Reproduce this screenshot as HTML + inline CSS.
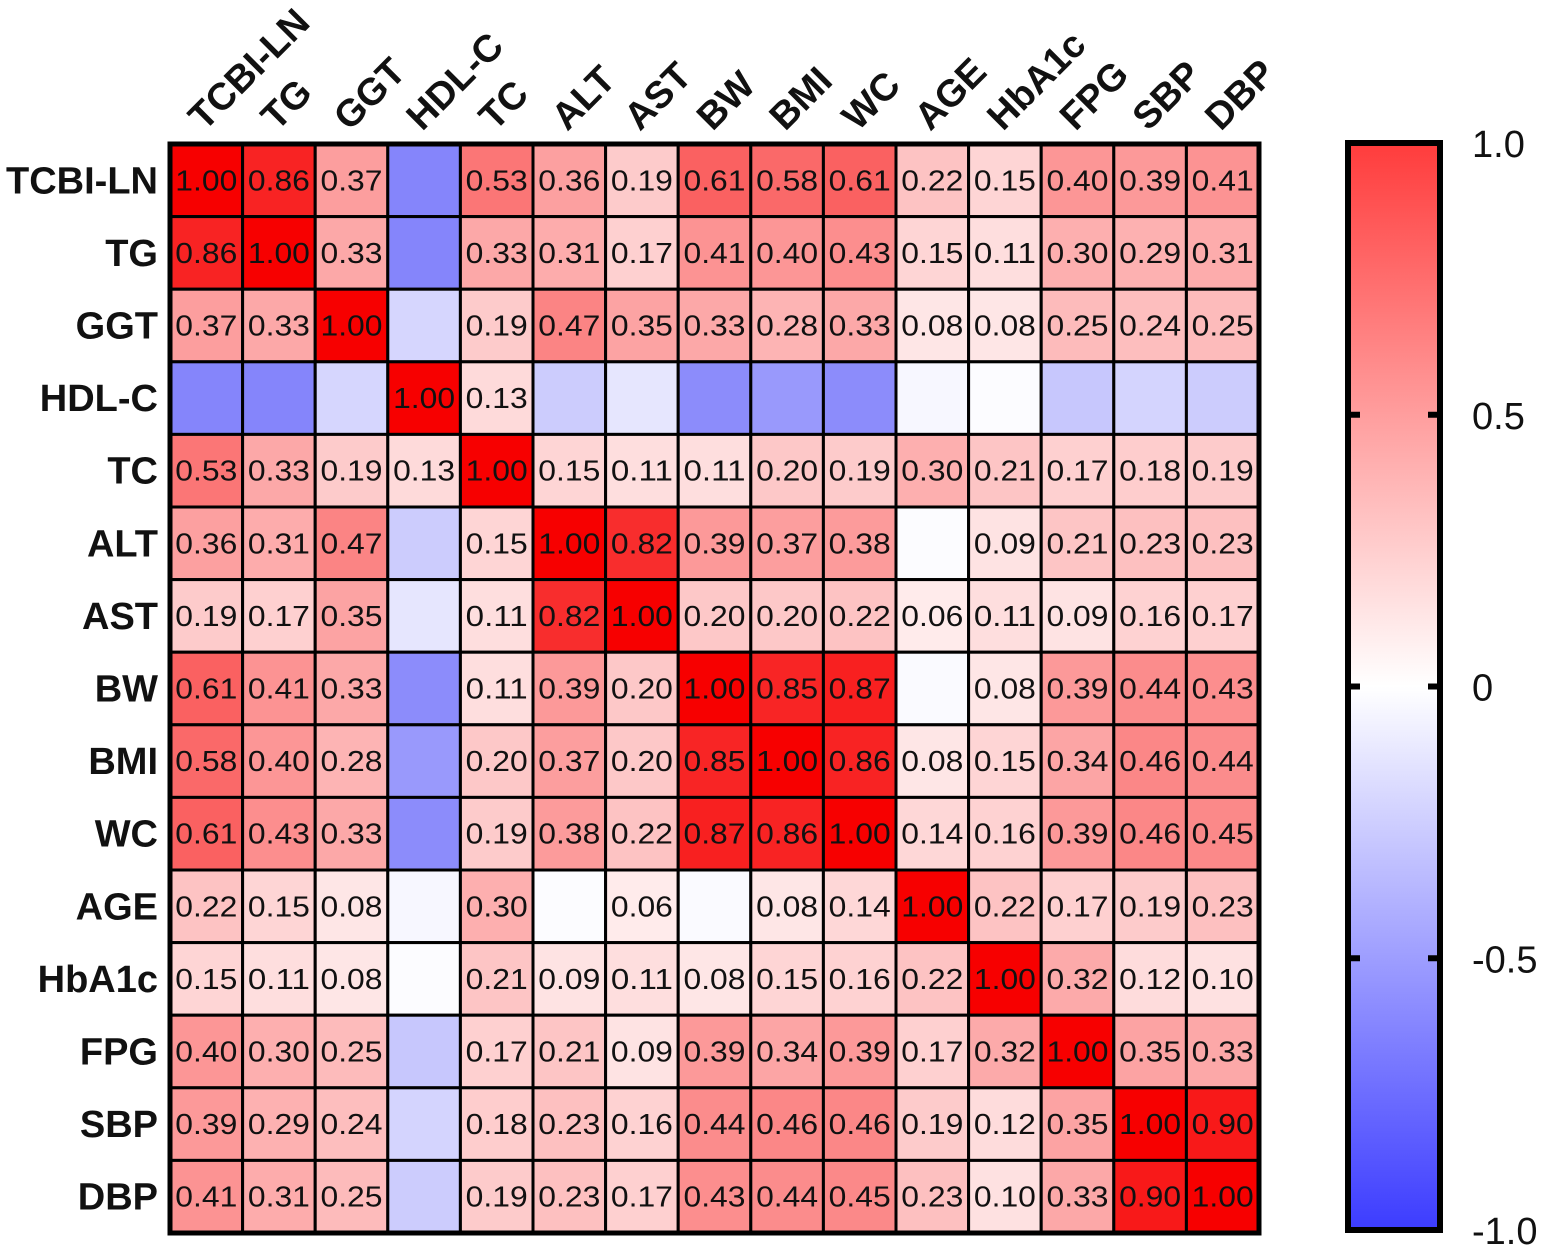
<!DOCTYPE html>
<html><head><meta charset="utf-8"><style>
html,body{margin:0;padding:0;background:#fff;}
svg{display:block;font-family:"Liberation Sans",sans-serif;}
</style></head><body>
<svg id="chart" width="1550" height="1248" viewBox="0 0 1550 1248"></svg>
<script>
const labels=["TCBI-LN","TG","GGT","HDL-C","TC","ALT","AST","BW","BMI","WC","AGE","HbA1c","FPG","SBP","DBP"];
const row0=[1.00,0.86,0.37,-0.48,0.53,0.36,0.19,0.61,0.58,0.61,0.22,0.15,0.40,0.39,0.41];
const row1=[0.86,1.00,0.33,-0.48,0.33,0.31,0.17,0.41,0.40,0.43,0.15,0.11,0.30,0.29,0.31];
const row2=[0.37,0.33,1.00,-0.16,0.19,0.47,0.35,0.33,0.28,0.33,0.08,0.08,0.25,0.24,0.25];
const row3=[-0.48,-0.48,-0.16,1.00,0.13,-0.20,-0.10,-0.45,-0.40,-0.45,-0.03,-0.01,-0.22,-0.17,-0.20];
const row4=[0.53,0.33,0.19,0.13,1.00,0.15,0.11,0.11,0.20,0.19,0.30,0.21,0.17,0.18,0.19];
const row5=[0.36,0.31,0.47,-0.20,0.15,1.00,0.82,0.39,0.37,0.38,-0.01,0.09,0.21,0.23,0.23];
const row6=[0.19,0.17,0.35,-0.10,0.11,0.82,1.00,0.20,0.20,0.22,0.06,0.11,0.09,0.16,0.17];
const row7=[0.61,0.41,0.33,-0.45,0.11,0.39,0.20,1.00,0.85,0.87,-0.02,0.08,0.39,0.44,0.43];
const row8=[0.58,0.40,0.28,-0.40,0.20,0.37,0.20,0.85,1.00,0.86,0.08,0.15,0.34,0.46,0.44];
const row9=[0.61,0.43,0.33,-0.45,0.19,0.38,0.22,0.87,0.86,1.00,0.14,0.16,0.39,0.46,0.45];
const row10=[0.22,0.15,0.08,-0.03,0.30,-0.01,0.06,-0.02,0.08,0.14,1.00,0.22,0.17,0.19,0.23];
const row11=[0.15,0.11,0.08,-0.01,0.21,0.09,0.11,0.08,0.15,0.16,0.22,1.00,0.32,0.12,0.10];
const row12=[0.40,0.30,0.25,-0.22,0.17,0.21,0.09,0.39,0.34,0.39,0.17,0.32,1.00,0.35,0.33];
const row13=[0.39,0.29,0.24,-0.17,0.18,0.23,0.16,0.44,0.46,0.46,0.19,0.12,0.35,1.00,0.90];
const row14=[0.41,0.31,0.25,-0.20,0.19,0.23,0.17,0.43,0.44,0.45,0.23,0.10,0.33,0.90,1.00];
const matrix=[row0,row1,row2,row3,row4,row5,row6,row7,row8,row9,row10,row11,row12,row13,row14];
const cbTicks=[1.0,0.5,0,-0.5,-1.0];
const cbTickLabels=["1.0","0.5","0","-0.5","-1.0"];

const NS="http://www.w3.org/2000/svg";
const svg=document.getElementById("chart");
function mk(tag,attrs,parent){const e=document.createElementNS(NS,tag);for(const k in attrs)e.setAttribute(k,attrs[k]);(parent||svg).appendChild(e);return e;}
const gx0=170,gy0=144,cw=72.6,ch=72.6,n=labels.length;
const xPos=i=>gx0+i*cw, yPos=i=>gy0+i*ch;
function color(v){
  const d=Math.round(255*(1-Math.min(1,Math.abs(v))));
  if(v>=0){const r=Math.round(255-8*v);return `rgb(${r},${Math.round(d*0.98)},${Math.round(d*0.98)})`;}
  return `rgb(${d},${d},${Math.round(255-8*Math.abs(v))})`;
}
const cells=mk("g",{});


for(let r=0;r<n;r++)for(let c=0;c<n;c++){
  const v=matrix[r][c];
  const rc=mk("rect",{x:xPos(c),y:yPos(r),width:cw,height:ch,fill:color(v),stroke:"#000","stroke-width":3},cells);
  
  
  if(v>0.05){
    const t=mk("text",{x:xPos(c)+cw/2,y:yPos(r)+ch/2+10,"text-anchor":"middle","font-size":29,"textLength":62,"lengthAdjust":"spacingAndGlyphs",fill:"#111"},cells);
    t.textContent=v.toFixed(2);
    
    
  }
}
const fr=mk("rect",{x:gx0,y:gy0,width:cw*n,height:ch*n,fill:"none",stroke:"#000","stroke-width":5});


for(let i=0;i<n;i++){
  const t=mk("text",{x:158,y:yPos(i)+ch/2+13,"text-anchor":"end","font-size":38,"font-weight":"bold",fill:"#111"});
  t.textContent=labels[i];
  
  
  const cx=xPos(i)+cw/2-2, cy=132;
  const u=mk("text",{x:cx,y:cy,"text-anchor":"start","font-size":38,"font-weight":"bold",fill:"#111",transform:`rotate(-45 ${cx} ${cy})`});
  u.textContent=labels[i];
  
  
}
const defs=mk("defs",{});
const lg=mk("linearGradient",{id:"cb",x1:0,y1:0,x2:0,y2:1},defs);
mk("stop",{offset:"0","stop-color":"#ff3c3c"},lg);
mk("stop",{offset:"0.5","stop-color":"#ffffff"},lg);
mk("stop",{offset:"1","stop-color":"#3c3cff"},lg);
const cbx=1348,cbw=92,cbTop=143,cbBot=1230;
const cbY=v=>cbTop+(1-v)/2*(cbBot-cbTop);
const cb=mk("rect",{x:cbx,y:cbTop,width:cbw,height:cbBot-cbTop,fill:"url(#cb)",stroke:"#000","stroke-width":6});


cbTicks.forEach((v,i)=>{
  const y=cbY(v);
  if(Math.abs(v)<1){
    mk("line",{x1:cbx,x2:cbx+12,y1:y,y2:y,stroke:"#000","stroke-width":6});
    mk("line",{x1:cbx+cbw-12,x2:cbx+cbw,y1:y,y2:y,stroke:"#000","stroke-width":6});
  }
  const t=mk("text",{x:1472,y:y+14,"font-size":38,fill:"#111"});
  t.textContent=cbTickLabels[i];
  
  
});
</script>
</body></html>
